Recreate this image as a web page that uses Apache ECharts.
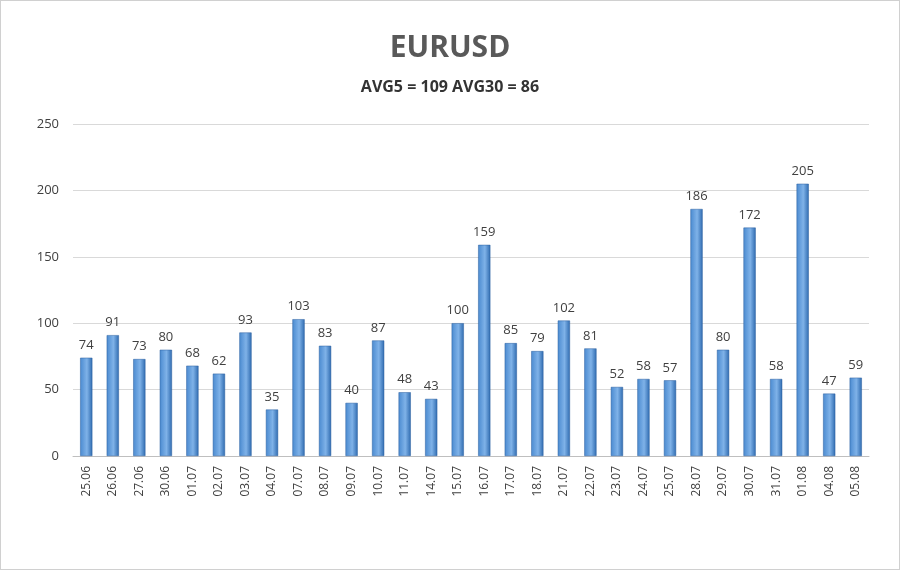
<!DOCTYPE html>
<html><head><meta charset="utf-8">
<script src="https://cdn.jsdelivr.net/npm/echarts@6/dist/echarts.min.js"></script>
<style>html,body{margin:0;padding:0;background:#fff}#c{width:900px;height:570px;box-sizing:border-box;border:1px solid #d0d0d0}</style>
</head><body><div id="c"></div>
<script>
const categories = ["25.06","26.06","27.06","30.06","01.07","02.07","03.07","04.07","07.07","08.07","09.07","10.07","11.07","14.07","15.07","16.07","17.07","18.07","21.07","22.07","23.07","24.07","25.07","28.07","29.07","30.07","31.07","01.08","04.08","05.08"];
const values = [74,91,73,80,68,62,93,35,103,83,40,87,48,43,100,159,85,79,102,81,52,58,57,186,80,172,58,205,47,59];
const titleText = "EURUSD";
const subtitleText = "AVG5 = 109 AVG30 = 86";
const chart = echarts.init(document.getElementById('c'));
chart.setOption({
  animation:false,
  title:{text:titleText,subtext:subtitleText,left:'center',top:27,itemGap:16,
    textStyle:{fontFamily:'Open Sans',fontSize:30,fontWeight:'bold',color:'#595959'},
    subtextStyle:{fontFamily:'Open Sans',fontSize:16,fontWeight:'bold',color:'#333'}},
  grid:{left:72,right:30,top:123,bottom:113},
  xAxis:{type:'category',data:categories,
    axisLine:{lineStyle:{color:'#bfbfbf'}},axisTick:{show:false},
    axisLabel:{rotate:90,color:'#404040',fontFamily:'Open Sans',fontSize:12,margin:10}},
  yAxis:{type:'value',min:0,max:250,interval:50,
    axisLine:{show:false},axisTick:{show:false},
    splitLine:{lineStyle:{color:'#d9d9d9'}},
    axisLabel:{color:'#404040',fontFamily:'Open Sans',fontSize:13,margin:14}},
  series:[{type:'bar',data:values,barWidth:'46%',
    itemStyle:{color:new echarts.graphic.LinearGradient(0,0,1,0,[
      {offset:0,color:'#4a8ad0'},{offset:0.55,color:'#7fb2e8'},{offset:1,color:'#2f6bb0'}]),
      borderColor:'#2a5f9e',borderWidth:0.5},
    label:{show:true,position:'top',distance:6,color:'#404040',fontFamily:'Open Sans',fontSize:13}}]
});
</script></body></html>
